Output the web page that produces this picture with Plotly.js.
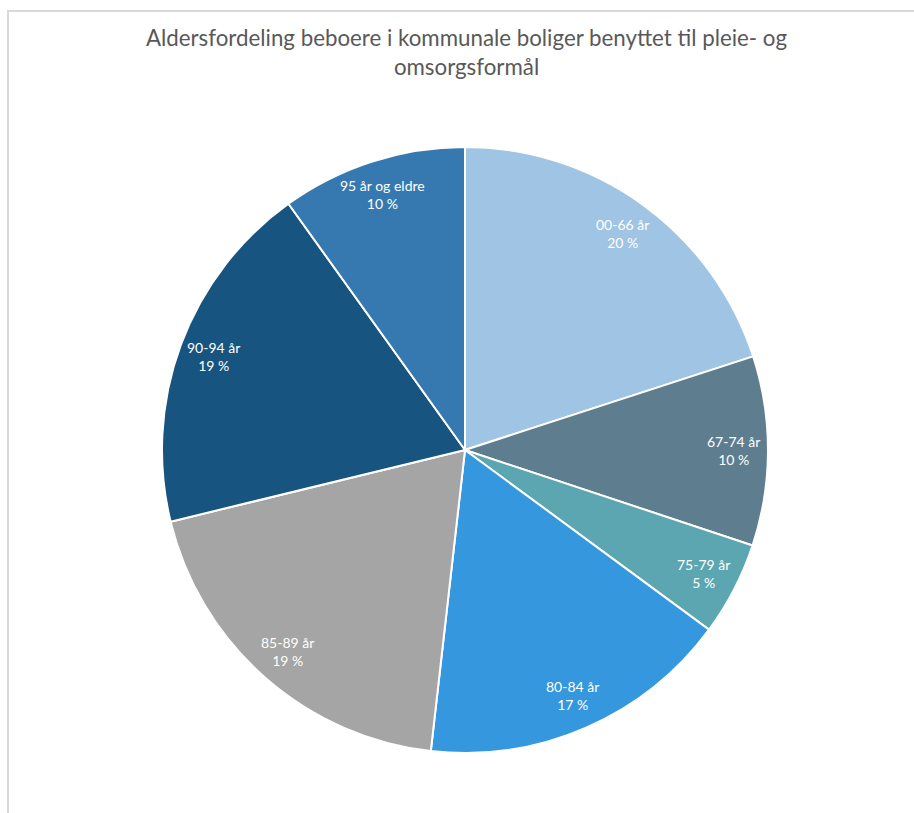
<!DOCTYPE html>
<html>
<head>
<meta charset="utf-8">
<script src="https://cdn.plot.ly/plotly-3.0.1.min.js"></script>
<style>
  html, body { margin: 0; padding: 0; background: #ffffff; }
  #wrap { position: relative; width: 914px; height: 813px; overflow: hidden; }
  #chart { position: absolute; left: 0; top: 0; width: 914px; height: 813px; }
  #frame { position: absolute; left: 7px; top: 10px; width: 1000px; height: 1000px;
           border-left: 2px solid #d9d9d9; border-top: 2px solid #d9d9d9; pointer-events: none; }
</style>
</head>
<body>
<div id="wrap">
  <div id="chart"></div>
  <div id="frame"></div>
</div>
<script>
// Data (percent share per age group)
const categories = ["00-66 år", "67-74 år", "75-79 år", "80-84 år", "85-89 år", "90-94 år", "95 år og eldre"];
const values = [20.0, 10.1, 5.0, 16.7, 19.4, 18.9, 9.9];
const colors = ["#A0C4E3", "#5E7D8F", "#5CA6B1", "#3597DD", "#A5A5A5", "#175480", "#3679B1"];
const chartTitle = "Aldersfordeling beboere i kommunale boliger benyttet til pleie- og<br>omsorgsformål";

const W = 914, H = 813;
const cx = 465, cy = 450, R = 303;
const domX = [(cx - R) / W, (cx + R) / W];
const domY = [(H - cy - R) / H, (H - cy + R) / H];

const total = values.reduce((a, b) => a + b, 0);
const labelFrac = 0.885;
const annotations = [];
let cum = 0;
values.forEach((v, i) => {
  const mid = (cum + v / 2) / total * 2 * Math.PI; // clockwise from 12 o'clock
  cum += v;
  const px = cx + labelFrac * R * Math.sin(mid);
  const py = cy - labelFrac * R * Math.cos(mid);
  annotations.push({
    x: px / W, y: 1 - py / H, xref: "paper", yref: "paper",
    xanchor: "center", yanchor: "middle", showarrow: false,
    text: categories[i] + "<br>" + Math.round(v / total * 100) + " %",
    font: { family: "Lato, 'Open Sans', sans-serif", size: 14, color: "#ffffff" },
    align: "center"
  });
});

annotations.push({
  x: 467 / W, y: 1 - 52 / H, xref: "paper", yref: "paper",
  xanchor: "center", yanchor: "middle", showarrow: false,
  text: chartTitle, align: "center",
  font: { family: "Lato, 'Open Sans', sans-serif", size: 22.3, color: "#595959" }
});

const trace = {
  type: "pie",
  labels: categories,
  values: values,
  sort: false,
  direction: "clockwise",
  rotation: 0,
  textinfo: "none",
  hoverinfo: "label+percent",
  marker: { colors: colors, line: { color: "#ffffff", width: 2 } },
  domain: { x: domX, y: domY },
  showlegend: false
};

const layout = {
  width: W, height: H,
  margin: { l: 0, r: 0, t: 0, b: 0 },
  paper_bgcolor: "#ffffff",
  annotations: annotations,
  showlegend: false
};

Plotly.newPlot("chart", [trace], layout, { displayModeBar: false, staticPlot: true });
</script>
</body>
</html>
